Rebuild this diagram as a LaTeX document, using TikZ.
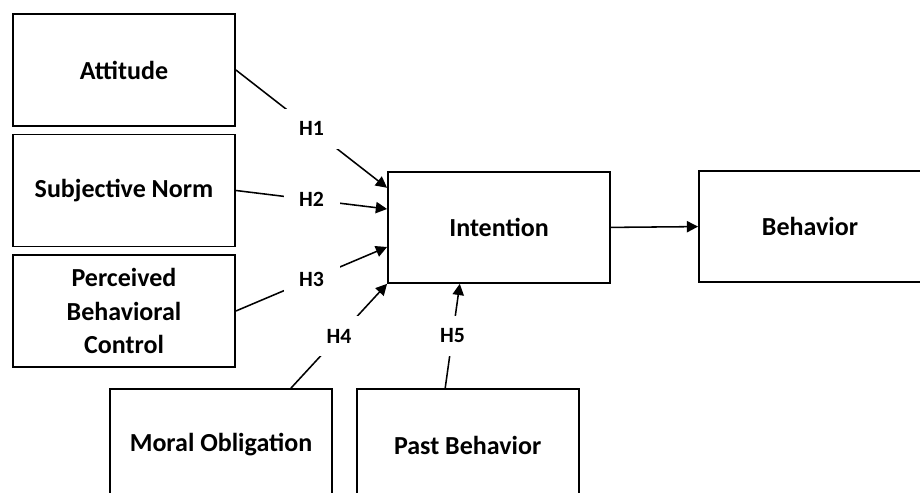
\documentclass[tikz,border=0pt]{standalone}
\usepackage{fontspec}
\setmainfont{Carlito}
\usepackage{tikz}
\usetikzlibrary{arrows.meta}

\begin{document}
\begin{tikzpicture}[>={Triangle[length=8pt,width=8pt]},
		box/.style={draw,line width=1.3pt,minimum width=5.55cm,minimum height=2.8cm,align=center,inner sep=0pt,font=\fontsize{18.5}{23.5}\selectfont\bfseries},
		hlab/.style={fill=white,minimum width=1.4cm,minimum height=1cm,inner sep=0pt,font=\fontsize{15.5}{18}\selectfont\bfseries},
		link/.style={->,line width=1.1pt}]
			\useasboundingbox (0,0) rectangle (23,12.325);
			\clip (0,0) rectangle (23,12.325);
			
			\node[box] (att) at (3.1,10.575) {Attitude};
			\node[box] (sn) at (3.1,7.5625) {Subjective Norm};
			\node[box] (pbc) at (3.1,4.55) {Perceived\\Behavioral\\Control};
			\node[box] (mo) at (5.525,1.2) {Moral Obligation};
			\node[box] (pb) at (11.69,1.2) {Past Behavior};
			\node[box,minimum height=2.775cm] (int) at (12.475,6.64) {Intention};
			\node[box,minimum height=2.775cm] (beh) at (20.25,6.66) {Behavior};
			
			\draw[link] (att.east) -- node[hlab]{H1} ([yshift=0.99cm]int.west);
			\draw[link] (sn.east) -- node[hlab]{H2} ([yshift=0.46cm]int.west);
			\draw[link] (pbc.east) -- node[hlab]{H3} ([yshift=-0.49cm]int.west);
			\draw[link] ([xshift=1.75cm]mo.north) -- node[hlab]{H4} (int.south west);
			\draw[link] ([xshift=-0.56cm]pb.north) -- node[hlab]{H5} ([xshift=-0.98cm]int.south);
			\draw[link] (int.east) -- (beh.west);
		\end{tikzpicture}
\end{document}
